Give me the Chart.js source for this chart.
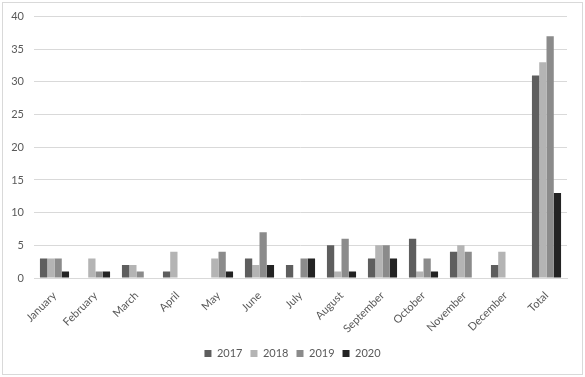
<!DOCTYPE html>
<html>
<head>
<meta charset="utf-8">
<script src="https://cdn.jsdelivr.net/npm/chart.js@4/dist/chart.umd.min.js"></script>
<style>
  html, body { margin: 0; padding: 0; background: #fff; }
  #wrap { width: 585px; height: 377px; }
</style>
</head>
<body>
<div id="wrap"><canvas id="yearChart" width="585" height="377"></canvas></div>
<script>
const months = ['January', 'February', 'March', 'April', 'May', 'June', 'July',
    'August', 'September', 'October', 'November', 'December', 'Total'];
const y2017 = [3, 0, 2, 1, 0, 3, 2, 5, 3, 6, 4, 2, 31];
const y2018 = [3, 3, 2, 4, 3, 2, 0, 1, 5, 1, 5, 4, 33];
const y2019 = [3, 1, 1, 0, 4, 7, 3, 6, 5, 3, 4, 0, 37];
const y2020 = [1, 1, 0, 0, 1, 2, 3, 1, 3, 1, 0, 0, 13];
const yearLabels = ['2017', '2018', '2019', '2020'];
const yearColors = ['#5e5e5e', '#b4b4b4', '#8b8b8b', '#232323'];

const textColor = '#595959';
const gridColor = '#d9d9d9';

// light frame round the whole chart
const frame = {
    id: 'frame',
    beforeDraw(chart) {
        const ctx = chart.ctx;
        ctx.save();
        ctx.fillStyle = '#fff';
        ctx.fillRect(0, 0, chart.width, chart.height);
        ctx.strokeStyle = '#d9d9d9';
        ctx.lineWidth = 1;
        ctx.strokeRect(2.5, 2.5, chart.width - 5, chart.height - 5);
        ctx.restore();
    }
};

// legend is centred on the whole frame, not on the padded area
const legendShift = {
    id: 'legendShift',
    afterLayout(chart) {
        if (chart.legend) {
            chart.legend.left += 9;
            chart.legend.right += 9;
        }
    }
};

const seriesList = [y2017, y2018, y2019, y2020];

new Chart(document.getElementById('yearChart').getContext('2d'), {
    type: 'bar',
    data: {
        labels: months,
        datasets: seriesList.map((values, i) => ({
            label: yearLabels[i],
            data: values,
            backgroundColor: yearColors[i],
            borderWidth: 0,
            barPercentage: 1.0,
            categoryPercentage: 0.71
        }))
    },
    options: {
        responsive: false,
        animation: false,
        layout: {
            padding: { left: 0, right: 18, top: 12, bottom: 8 }
        },
        plugins: {
            legend: {
                position: 'bottom',
                labels: {
                    color: textColor,
                    font: { family: 'Lato', size: 11 },
                    boxWidth: 7,
                    boxHeight: 7,
                    padding: 8
                }
            },
            tooltip: { enabled: false }
        },
        scales: {
            x: {
                grid: { display: false },
                border: { display: true, color: gridColor },
                ticks: {
                    color: textColor,
                    font: { family: 'Lato', size: 11 },
                    minRotation: 45,
                    maxRotation: 45,
                    autoSkip: false
                },
                afterFit(scale) { scale.height = 62; }
            },
            y: {
                min: 0,
                max: 40,
                grid: { color: gridColor, drawTicks: false },
                border: { display: false },
                ticks: {
                    stepSize: 5,
                    color: textColor,
                    font: { family: 'Lato', size: 11 },
                    padding: 10
                },
                afterFit(scale) { scale.width = 34; }
            }
        }
    },
    plugins: [frame, legendShift]
});
</script>
</body>
</html>
